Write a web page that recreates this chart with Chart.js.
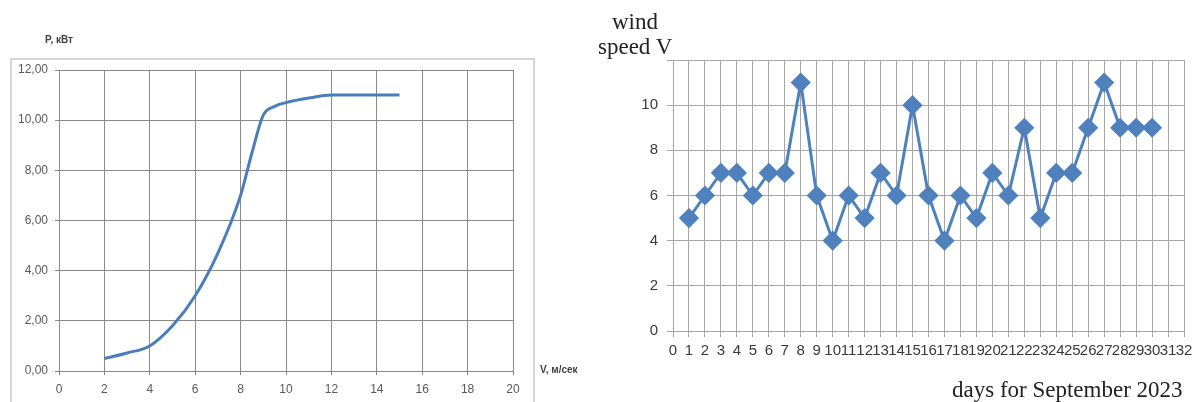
<!DOCTYPE html>
<html>
<head>
<meta charset="utf-8">
<script src="https://cdn.jsdelivr.net/npm/chart.js@4"></script>
<style>
  body { margin: 0; background: #fff; width: 1203px; height: 402px; overflow: hidden; position: relative; }
  .box { position: absolute; }
  .frame { position: absolute; left: 10px; top: 58px; width: 521px; height: 360px; border: 2px solid #d6d6d6; }
  .lab { position: absolute; white-space: nowrap; }
  .xl { font-family: "Liberation Sans", Arial, sans-serif; font-weight: bold; font-size: 10px; color: #404040; }
  .serif { font-family: "Liberation Serif", "Times New Roman", serif; font-size: 23px; color: #222; }
</style>
</head>
<body>
<div class="frame"></div>
<div class="box" style="left:0;top:0;width:600px;height:402px"><canvas id="powerChart"></canvas></div>
<div class="box" style="left:600px;top:0;width:603px;height:402px"><canvas id="windChart"></canvas></div>
<div class="lab xl" style="left:45px;top:34px">P, кВт</div>
<div class="lab xl" style="left:540px;top:364px">V, м/сек</div>
<div class="lab serif" style="left:612px;top:9px">wind</div>
<div class="lab serif" style="left:598px;top:34px">speed V</div>
<div class="lab serif" style="left:952px;top:377px">days for September 2023</div>
<script>
// power curve
const speedV = [2, 3, 4, 5, 6, 7, 8, 8.5, 9, 9.5, 10, 11, 12, 13, 14, 15];
const powerP = [0.5, 0.72, 1.0, 1.8, 3.0, 4.7, 7.0, 8.7, 10.2, 10.55, 10.7, 10.88, 11.0, 11.0, 11.0, 11.0];

// wind speed by day, September 2023
const days = [];
for (let d = 1; d <= 30; d++) days.push(d);
const windSpeed = [5, 6, 7, 7, 6, 7, 7, 11, 6, 4, 6, 5, 7, 6, 10, 6, 4, 6, 5, 7, 6, 9, 5, 7, 7, 9, 11, 9, 9, 9];

const blue = '#4a7ebb';

new Chart(document.getElementById('powerChart'), {
  type: 'scatter',
  data: {
    datasets: [{
      data: speedV.map((v, i) => ({ x: v, y: powerP[i] })),
      showLine: true,
      borderColor: blue,
      borderWidth: 3,
      pointRadius: 0,
      cubicInterpolationMode: 'monotone'
    }]
  },
  options: {
    responsive: true,
    maintainAspectRatio: false,
    animation: false,
    layout: { padding: { left: 10, right: 87, top: 70, bottom: 0 } },
    plugins: { legend: { display: false }, tooltip: { enabled: false } },
    scales: {
      x: {
        type: 'linear', min: 0, max: 20,
        ticks: { stepSize: 2, padding: 7, color: '#595959', font: { family: 'Liberation Sans', size: 12 } },
        grid: { color: '#8a8a8a', tickLength: 4 },
        border: { color: '#8a8a8a' },
        afterFit: s => { s.height = 31; }
      },
      y: {
        min: 0, max: 12,
        ticks: {
          stepSize: 2, padding: 7, color: '#595959', font: { family: 'Liberation Sans', size: 12 },
          callback: v => v.toFixed(2).replace('.', ',')
        },
        grid: { color: '#8a8a8a', tickLength: 4 },
        border: { color: '#8a8a8a' },
        afterFit: s => { s.width = 49; }
      }
    }
  }
});

new Chart(document.getElementById('windChart'), {
  type: 'scatter',
  data: {
    datasets: [{
      data: days.map((d, i) => ({ x: d, y: windSpeed[i] })),
      showLine: true,
      borderColor: '#4f81bd',
      borderWidth: 3,
      pointStyle: 'rectRot',
      pointRadius: 8,
      pointBackgroundColor: '#4f81bd',
      pointBorderColor: '#4f81bd',
      tension: 0
    }]
  },
  options: {
    responsive: true,
    maintainAspectRatio: false,
    animation: false,
    layout: { padding: { left: 0, right: 19, top: 60, bottom: 31 } },
    plugins: { legend: { display: false }, tooltip: { enabled: false } },
    scales: {
      x: {
        type: 'linear', min: 0, max: 32,
        ticks: { stepSize: 1, autoSkip: false, maxRotation: 0, padding: 5, color: '#3a3a3a', font: { family: 'Liberation Sans', size: 15 } },
        grid: { color: '#a6a6a6', tickLength: 6 },
        border: { color: '#a6a6a6' },
        afterFit: s => { s.height = 40; }
      },
      y: {
        min: 0, max: 12,
        ticks: {
          stepSize: 2, padding: 9, color: '#3a3a3a', font: { family: 'Liberation Sans', size: 15 },
          callback: v => (v === 12 ? '' : v)
        },
        grid: { color: '#a6a6a6', tickLength: 6 },
        border: { color: '#a6a6a6' },
        afterFit: s => { s.width = 73; }
      }
    }
  }
});
</script>
</body>
</html>
